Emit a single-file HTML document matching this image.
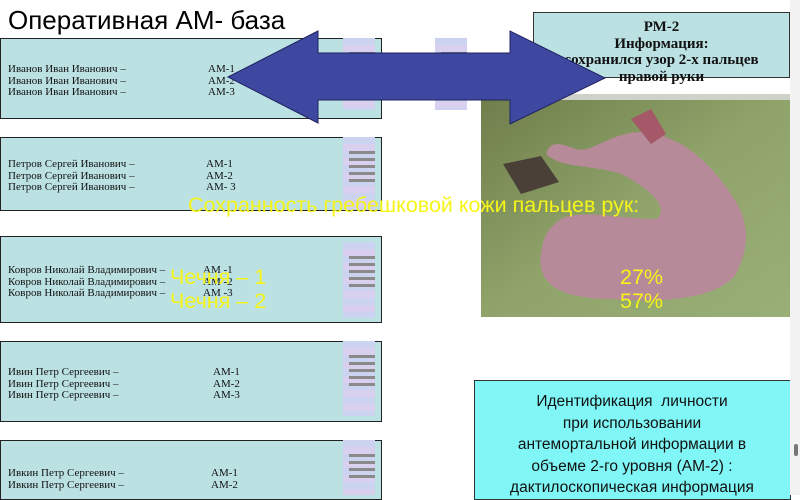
<!DOCTYPE html>
<html><head><meta charset="utf-8"><style>
body{margin:0;width:800px;height:495px;overflow:hidden;background:#fff;position:relative;font-family:"Liberation Sans",sans-serif}
.a{position:absolute}
.box{position:absolute;left:0;width:382px;background:#bce1e3;border:1px solid #222;box-sizing:border-box}
.t{position:absolute;font-family:"Liberation Serif",serif;font-size:11px;line-height:11.7px;color:#111;white-space:pre}
.th{position:absolute;width:32px;background:repeating-linear-gradient(180deg,#cbd3f0 0 7px,#d8d0ee 7px 14px);}
.th i{display:block;height:3px;background:#8a8a8a;margin:4px 0 0 6px;width:26px}
.y{position:absolute;color:#f5f51a;font-size:21.5px;white-space:pre;line-height:24px}
</style></head><body>
<div class="a" style="left:8px;top:5px;font-size:26px;line-height:30px;color:#000">Оперативная АМ- база</div>

<div class="box" style="top:38px;height:81px"></div>
<div class="box" style="top:137px;height:74px"></div>
<div class="box" style="top:236px;height:87px"></div>
<div class="box" style="top:341px;height:81px"></div>
<div class="box" style="top:440px;height:60px"></div>

<div class="th" style="left:343px;top:38px;height:72px"><i style="margin-top:14px"></i><i></i><i></i><i></i></div>
<div class="th" style="left:343px;top:137px;height:73px"><i style="margin-top:14px"></i><i></i><i></i><i></i><i></i></div>
<div class="th" style="left:343px;top:242px;height:76px"><i style="margin-top:14px"></i><i></i><i></i><i></i><i></i></div>
<div class="th" style="left:343px;top:341px;height:75px"><i style="margin-top:14px"></i><i></i><i></i><i></i><i></i></div>
<div class="th" style="left:343px;top:440px;height:55px"><i style="margin-top:14px"></i><i></i><i></i><i></i></div>
<div class="th" style="left:435px;top:38px;height:72px"><i style="margin-top:14px"></i></div>

<div class="t" style="left:8px;top:64px">Иванов Иван Иванович –
Иванов Иван Иванович –
Иванов Иван Иванович –</div>
<div class="t" style="left:208px;top:64px">АМ-1
АМ-2
АМ-3</div>
<div class="t" style="left:8px;top:159px">Петров Сергей Иванович –
Петров Сергей Иванович –
Петров Сергей Иванович –</div>
<div class="t" style="left:206px;top:159px">АМ-1
АМ-2
АМ- 3</div>
<div class="t" style="left:8px;top:265px">Ковров Николай Владимирович –
Ковров Николай Владимирович –
Ковров Николай Владимирович –</div>
<div class="t" style="left:203px;top:265px">АМ -1
АМ -2
АМ -3</div>
<div class="t" style="left:8px;top:367px">Ивин Петр Сергеевич –
Ивин Петр Сергеевич –
Ивин Петр Сергеевич –</div>
<div class="t" style="left:213px;top:367px">АМ-1
АМ-2
АМ-3</div>
<div class="t" style="left:8px;top:468px">Ивкин Петр Сергеевич –
Ивкин Петр Сергеевич –</div>
<div class="t" style="left:211px;top:468px">АМ-1
АМ-2</div>

<svg class="a" style="left:481px;top:94px" width="309" height="223">
<defs><linearGradient id="g" x1="0" y1="0" x2="1" y2="1"><stop offset="0" stop-color="#6f7d4a"/><stop offset="0.5" stop-color="#8fa36a"/><stop offset="1" stop-color="#9aae78"/></linearGradient></defs>
<rect width="309" height="223" fill="url(#g)"/>
<rect width="309" height="6" fill="#cfd2c8"/>
<path d="M60,160 C55,190 80,205 130,205 C200,210 240,200 255,180 C270,150 268,125 250,100 C230,70 200,40 160,38 C130,38 110,60 95,55 C80,50 70,45 65,60 C80,75 110,70 140,80 C170,95 190,115 175,125 C140,125 100,115 80,125 C65,135 62,145 60,160 Z" fill="#b68a98"/>
<path d="M150,25 L170,15 L185,40 L170,50 Z" fill="#a45868"/>
<path d="M22,70 L60,62 L78,88 L40,100 Z" fill="#4a4038"/>
</svg>

<div class="a" style="left:533px;top:12px;width:257px;height:66px;background:#bce1e3;border:1px solid #333;box-sizing:border-box"></div>
<div class="a" style="left:533px;top:19px;width:257px;text-align:center;font-family:'Liberation Serif',serif;font-weight:bold;font-size:15px;line-height:16.5px;color:#111">РМ-2<br>Информация:<br>сохранился узор 2-х пальцев<br>правой руки</div>

<svg class="a" style="left:0;top:0" width="800" height="495">
<polygon points="228,77 318,31 318,53 510,53 510,31 605,78 510,124 510,100 318,100 318,123" fill="#3f48a0" stroke="#1e2460" stroke-width="1"/>
</svg>

<div class="y" style="left:188px;top:193px">Сохранность гребешковой кожи пальцев рук:</div>
<div class="y" style="left:170px;top:265px">Чечня – 1</div>
<div class="y" style="left:170px;top:289px">Чечня – 2</div>
<div class="y" style="left:620px;top:265px">27%</div>
<div class="y" style="left:620px;top:289px">57%</div>

<div class="a" style="left:474px;top:380px;width:317px;height:120px;background:#80f6f6;border:1px solid #333;box-sizing:border-box"></div>
<div class="a" style="left:474px;top:391px;width:316px;text-align:center;font-size:15.5px;line-height:21.5px;color:#111">Идентификация&nbsp; личности<br>при использовании<br>антемортальной информации в<br>объеме 2-го уровня (АМ-2) :<br>дактилоскопическая информация</div>

<div class="a" style="left:790px;top:0;width:10px;height:495px;background:#f2f2f2"></div>
<div class="a" style="left:794px;top:444px;width:4px;height:12px;background:#777;border-radius:2px"></div>
</body></html>
